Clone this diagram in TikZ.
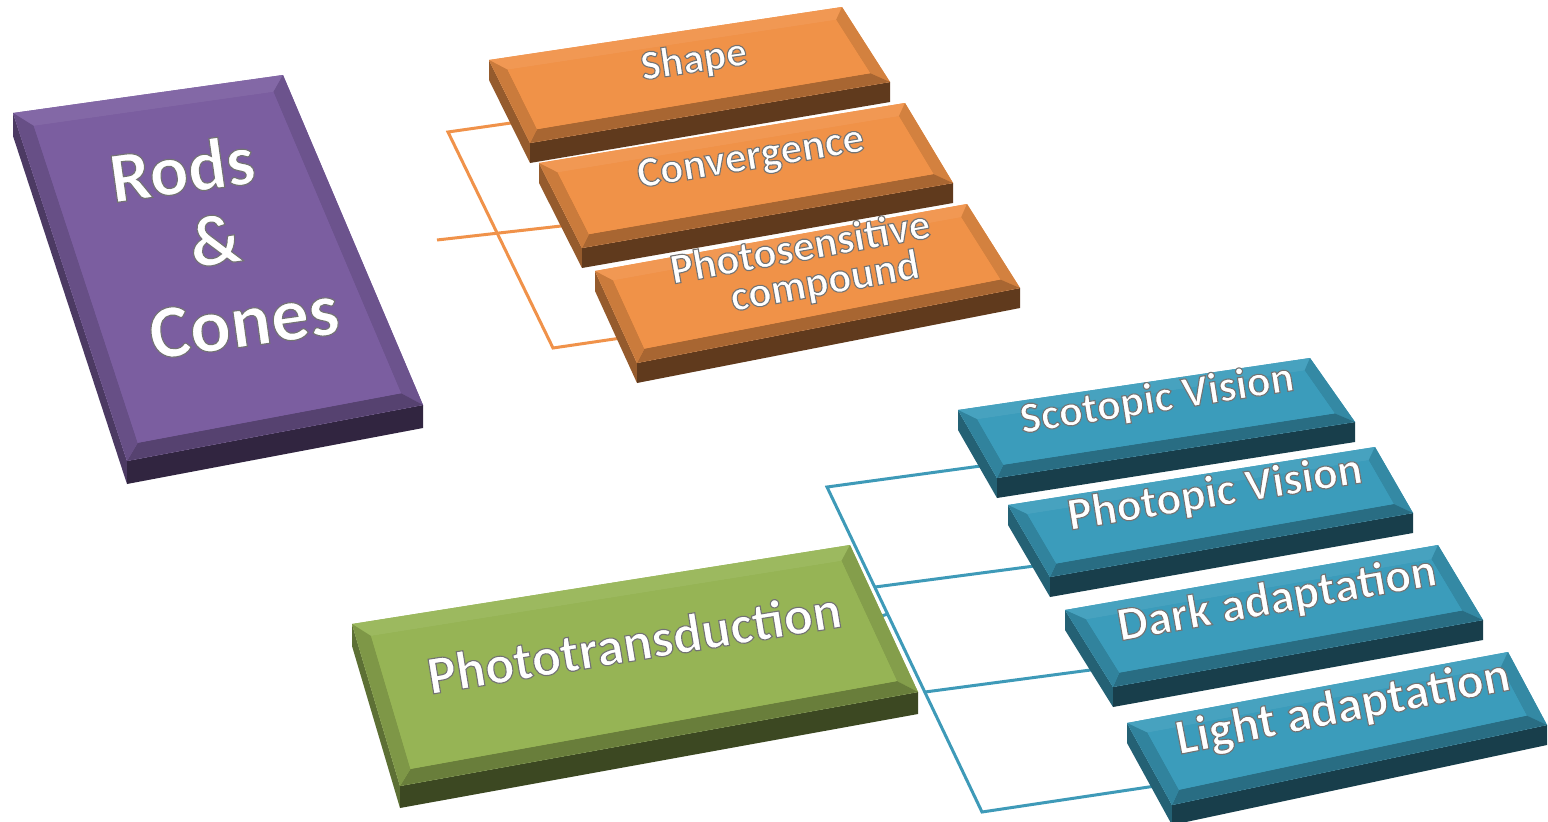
\documentclass[tikz,border=0pt]{standalone}
\usepackage{fontspec}
\setmainfont{Carlito}
\usetikzlibrary{calc}

\definecolor{purpleface}{HTML}{7B5EA0}
\definecolor{orangeface}{HTML}{F09248}
\definecolor{greenface}{HTML}{96B455}
\definecolor{blueface}{HTML}{3B9CBB}
\definecolor{orangelink}{HTML}{F0924A}
\definecolor{bluelink}{HTML}{3E9AB8}

% A bevelled slab seen from above: name, colour, thickness, bevel width,
% then the four corners of the top face (tl, tr, br, bl).
\newcommand\slab[8]{%
  \coordinate (#1-tl) at (#5);
  \coordinate (#1-tr) at (#6);
  \coordinate (#1-br) at (#7);
  \coordinate (#1-bl) at (#8);
  \coordinate (#1-tld) at ($(#1-tl)+(0,#3)$);
  \coordinate (#1-bld) at ($(#1-bl)+(0,#3)$);
  \coordinate (#1-brd) at ($(#1-br)+(0,#3)$);
  \coordinate (#1-itl) at ($(#1-tl)!#4!(#1-tr) + (#1-tl)!#4!(#1-bl) - (#1-tl)$);
  \coordinate (#1-itr) at ($(#1-tr)!#4!(#1-tl) + (#1-tr)!#4!(#1-br) - (#1-tr)$);
  \coordinate (#1-ibr) at ($(#1-br)!#4!(#1-bl) + (#1-br)!#4!(#1-tr) - (#1-br)$);
  \coordinate (#1-ibl) at ($(#1-bl)!#4!(#1-br) + (#1-bl)!#4!(#1-tl) - (#1-bl)$);
  % side faces
  \fill[#2!62!black] (#1-tl) -- (#1-tld) -- (#1-bld) -- (#1-bl) -- cycle;
  \fill[#2!40!black] (#1-bl) -- (#1-bld) -- (#1-brd) -- (#1-br) -- cycle;
  % top face and its bevel
  \fill[#2] (#1-tl) -- (#1-tr) -- (#1-br) -- (#1-bl) -- cycle;
  \fill[#2!94!white] (#1-tl) -- (#1-tr) -- (#1-itr) -- (#1-itl) -- cycle;
  \fill[#2!88!black] (#1-tr) -- (#1-br) -- (#1-ibr) -- (#1-itr) -- cycle;
  \fill[#2!70!black] (#1-br) -- (#1-bl) -- (#1-ibl) -- (#1-ibr) -- cycle;
  \fill[#2!84!black] (#1-bl) -- (#1-tl) -- (#1-itl) -- (#1-ibl) -- cycle;
  \fill[#2] (#1-itl) -- (#1-itr) -- (#1-ibr) -- (#1-ibl) -- cycle;
}

% White lettering with a grey rim (fill + stroke rendering of the glyphs)
\newcommand\raisedword[1]{%
  \special{pdf:literal direct 2 Tr 0.45 0.45 0.45 RG 1.1 w}#1%
  \special{pdf:literal direct 0 Tr}}

% name, position, angle, size, text
\newcommand\embossed[5]{%
  \node[embtext, rotate=#3, font=\fontsize{#4}{#4}\selectfont\bfseries]
    (#1) at (#2) {\raisedword{#5}};
}

\begin{document}
\begin{tikzpicture}[x=1pt, y=-1pt,
  embtext/.style={text=white, inner sep=0pt, anchor=center},
  olink/.style={draw=orangelink, line width=3pt},
  blink/.style={draw=bluelink, line width=3pt}]
\useasboundingbox (0,0) rectangle (1548,822);

% ---- connector points ----
\coordinate (o-in)   at (437,240);
\coordinate (o-top)  at (448,132);
\coordinate (o-mid)  at (497,233.5);
\coordinate (o-bot)  at (553,348);
\coordinate (o-shape) at (518,122);
\coordinate (o-conv)  at (570,225);
\coordinate (o-phot)  at (628,337);

\coordinate (b-top)  at (827,487);
\coordinate (b-2)    at (875,587);
\coordinate (b-3)    at (925,692);
\coordinate (b-bot)  at (982,812);
\coordinate (b-trunk) at (888,614);
\coordinate (g-out)  at (800,640);
\coordinate (b-scot) at (988,465);
\coordinate (b-phot) at (1042,565);
\coordinate (b-dark) at (1098,669);
\coordinate (b-lght) at (1162,785);

% ---- connectors (behind the slabs) ----
\draw[olink] (o-in) -- (o-conv);
\draw[olink, line join=miter] (o-shape) -- (o-top) -- (o-bot) -- (o-phot);
\draw[blink] (g-out) -- (b-trunk);
\draw[blink, line join=miter] (b-scot) -- (b-top) -- (b-bot) -- (b-lght);
\draw[blink] (b-2) -- (b-phot);
\draw[blink] (b-3) -- (b-dark);

% ---- Rods & Cones ----
\slab{rc}{purpleface}{23}{16pt}{13,113}{283,75}{423,405}{127,461}
\embossed{rc-1}{182,168}{8}{72}{Rods}
\embossed{rc-2}{215,240}{8}{72}{\&}
\embossed{rc-3}{244,322}{8}{76}{Cones}

% ---- orange group ----
\slab{shp}{orangeface}{20}{13pt}{489,60}{842,7}{890,82}{530,143}
\embossed{shp-t}{694,61}{8.5}{42}{Shape}
\slab{cnv}{orangeface}{20}{13pt}{539,163}{905,103}{953,183}{582,248}
\embossed{cnv-t}{751,159}{9.3}{43}{Convergence}
\slab{psc}{orangeface}{20}{13pt}{595,271}{967,204}{1020,288}{637,363}
\embossed{psc-t1}{800,246}{10.2}{43}{Photosensitive}
\embossed{psc-t2}{825,283}{10.2}{43}{compound}

% ---- Phototransduction ----
\slab{ptd}{greenface}{22}{15pt}{352,624}{850,545}{918,692}{400,786}
\embossed{ptd-t}{634,642}{9.3}{54}{Phototransduction}

% ---- blue group ----
\slab{sco}{blueface}{20}{13pt}{958,410}{1310,358}{1355,422}{997,478}
\embossed{sco-t}{1157,400}{9}{44}{Scotopic Vision}
\slab{pho}{blueface}{20}{13pt}{1008,505}{1375,447}{1413,513}{1050,577}
\embossed{pho-t}{1215,494}{9.2}{46}{Photopic Vision}
\slab{drk}{blueface}{20}{14pt}{1065,610}{1438,545}{1483,620}{1113,687}
\embossed{drk-t}{1277,600}{10}{48}{Dark adaptation}
\slab{lgt}{blueface}{20}{14pt}{1127,723}{1508,652}{1547,725}{1172,805}
\embossed{lgt-t}{1343,709}{11}{50}{Light adaptation}
\end{tikzpicture}
\end{document}
